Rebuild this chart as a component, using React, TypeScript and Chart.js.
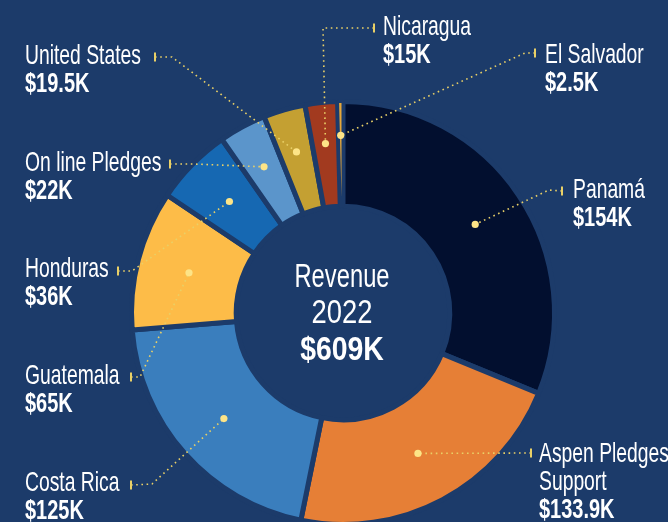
import React, { useEffect, useRef } from 'react';
import { Chart, registerables } from 'chart.js';

Chart.register(...registerables);

// ---- data ----
const categories = ['Panamá', 'Aspen Pledges Support', 'Costa Rica', 'Guatemala', 'Honduras', 'On line Pledges', 'United States', 'Nicaragua', 'El Salvador'];
const nameLines = [['Panamá'], ['Aspen Pledges', 'Support'], ['Costa Rica'], ['Guatemala'], ['Honduras'], ['On line Pledges'], ['United States'], ['Nicaragua'], ['El Salvador']];
const valueLabels = ['$154K', '$133.9K', '$125K', '$65K', '$36K', '$22K', '$19.5K', '$15K', '$2.5K'];
// slice sizes as drawn in the picture (in $K)
const sliceValues = [190, 133.9, 125, 65, 36, 22, 19.5, 15, 2.5];
const centerTitle = 'Revenue';
const centerYear = '2022';
const centerTotal = '$609K';

// ---- style ----
const BG = '#1c3b6a';
const sliceColors = ['#020f2f', '#e67f36', '#3a7ebd', '#fdbc48', '#1668b2', '#5b95cb', '#c4a032', '#a23a1f', '#e6a83a'];
const sliceBorders = [5, 5, 5, 5, 5, 5, 5, 5, 3];
const LEADER = '#e9d067';
const DOT = '#fde487';
const FONT = "'Liberation Sans', Arial, sans-serif";

// label layout: text x, first name baseline, tick point, elbow point
const labelLayout = [
  { x: 573, y: 198, tick: [562, 191], elbow: [549, 190] },
  { x: 539, y: 462, tick: [531, 453], elbow: null },
  { x: 25, y: 491, tick: [131, 485], elbow: [152, 484] },
  { x: 25, y: 384, tick: [131, 377], elbow: [140, 377] },
  { x: 25, y: 277, tick: [118, 271], elbow: [132, 271] },
  { x: 25, y: 171, tick: [170, 164], elbow: [193, 164] },
  { x: 25, y: 64, tick: [155, 57], elbow: [172, 57] },
  { x: 383, y: 35, tick: [374, 28], elbow: [323, 28] },
  { x: 545, y: 63, tick: [535, 53], elbow: [525, 53] },
];

function scaledText(ctx: CanvasRenderingContext2D, text: string, x: number, y: number, font: string, sx: number, align: CanvasTextAlign) {
  ctx.save();
  ctx.translate(x, y);
  ctx.scale(sx, 1);
  ctx.font = font;
  ctx.textAlign = align;
  ctx.textBaseline = 'alphabetic';
  ctx.fillText(text, 0, 0);
  ctx.restore();
}

const overlayPlugin = {
  id: 'overlay',
  afterDatasetsDraw(chart: any) {
    const ctx: CanvasRenderingContext2D = chart.ctx;
    const meta = chart.getDatasetMeta(0);
    let cx = 0, cy = 0;
    meta.data.forEach((arc: any, i: number) => {
      const p = arc.getProps(['startAngle', 'endAngle', 'innerRadius', 'outerRadius', 'x', 'y'], true);
      cx = p.x; cy = p.y;
      const mid = (p.startAngle + p.endAngle) / 2;
      const spanDeg = ((p.endAngle - p.startAngle) * 180) / Math.PI;
      const r = (p.innerRadius + p.outerRadius) / 2 + Math.max(0, 20 - spanDeg);
      const dx = p.x + Math.cos(mid) * r;
      const dy = p.y + Math.sin(mid) * r;
      const L = labelLayout[i];

      // leader
      ctx.save();
      ctx.strokeStyle = LEADER;
      ctx.lineWidth = 1.6;
      ctx.setLineDash([1.6, 3.6]);
      ctx.beginPath();
      ctx.moveTo(L.tick[0], L.tick[1]);
      if (L.elbow) ctx.lineTo(L.elbow[0], L.elbow[1]);
      ctx.lineTo(dx, dy);
      ctx.stroke();
      ctx.setLineDash([]);
      ctx.fillStyle = LEADER;
      ctx.fillRect(L.tick[0] - 1, L.tick[1] - 4.5, 2, 9);
      ctx.fillStyle = DOT;
      ctx.beginPath();
      ctx.arc(dx, dy, 3.6, 0, Math.PI * 2);
      ctx.fill();
      ctx.restore();

      // text
      ctx.fillStyle = '#ffffff';
      const lines = nameLines[i];
      lines.forEach((t, k) => {
        scaledText(ctx, t, L.x, L.y + k * 28, `28px ${FONT}`, 0.69, 'left');
      });
      scaledText(ctx, valueLabels[i], L.x, L.y + lines.length * 28, `bold 27px ${FONT}`, 0.74, 'left');
    });

    ctx.fillStyle = '#ffffff';
    scaledText(ctx, centerTitle, cx - 1, 287, `33px ${FONT}`, 0.72, 'center');
    scaledText(ctx, centerYear, cx - 1, 323, `33px ${FONT}`, 0.83, 'center');
    scaledText(ctx, centerTotal, cx - 1, 360, `bold 33px ${FONT}`, 0.86, 'center');
  },
};

export default function App() {
  const ref = useRef<HTMLCanvasElement | null>(null);
  useEffect(() => {
    document.body.style.margin = '0';
    document.body.style.background = BG;
    const canvas = ref.current!;
    const chart = new Chart(canvas, {
      type: 'doughnut',
      data: {
        labels: categories,
        datasets: [
          {
            data: sliceValues,
            backgroundColor: sliceColors,
            borderColor: BG,
            borderWidth: sliceBorders,
            hoverOffset: 0,
          },
        ],
      },
      options: {
        responsive: false,
        animation: false,
        cutout: '50.5%',
        layout: { padding: { left: 129, top: 99, right: 111, bottom: 33 } },
        plugins: {
          legend: { display: false },
          tooltip: { enabled: false },
        },
      },
      plugins: [overlayPlugin],
    });
    return () => chart.destroy();
  }, []);
  return (
    <div style={{ position: 'fixed', left: 0, top: 0, width: 668, height: 560, background: BG, overflow: 'hidden' }}>
      <canvas ref={ref} width={668} height={560} style={{ display: 'block', width: 668, height: 560 }} />
    </div>
  );
}
